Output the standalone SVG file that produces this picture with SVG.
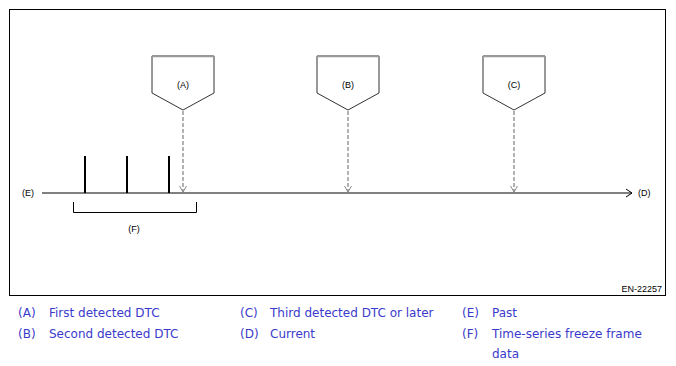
<svg xmlns="http://www.w3.org/2000/svg" width="676" height="366" viewBox="0 0 676 366">
<defs>
<marker id="chev" markerWidth="10" markerHeight="10" refX="8" refY="5" orient="auto" markerUnits="userSpaceOnUse">
<path d="M2,1 L8,5 L2,9" fill="none" stroke="#000" stroke-width="1"/>
</marker>
<marker id="chevg" markerWidth="10" markerHeight="10" refX="8" refY="5" orient="auto" markerUnits="userSpaceOnUse">
<path d="M2,1.5 L8,5 L2,8.5" fill="none" stroke="#888" stroke-width="1"/>
</marker>
<style>
.lbl{font-family:"Liberation Sans",Arial,sans-serif;font-size:9px;fill:#000}
.leg{font-family:"DejaVu Sans",Verdana,sans-serif;font-size:12px;fill:#3a3acc}
.box{fill:#fff;stroke:#333;stroke-width:1}
.top{stroke:#999;stroke-width:1.5}
.dash{stroke:#999;stroke-width:1.5;stroke-dasharray:4,2;fill:none}
.tick{stroke:#000;stroke-width:2}
</style>
</defs>
<rect x="9.5" y="9.5" width="656" height="286" fill="#fff" stroke="#000" stroke-width="1"/>
<g id="connectors">
<line x1="42" y1="193" x2="632" y2="193" stroke="#000" stroke-width="1" marker-end="url(#chev)"/>
<line class="dash" x1="183" y1="111" x2="183" y2="192" marker-end="url(#chevg)"/>
<line class="dash" x1="348" y1="111" x2="348" y2="192" marker-end="url(#chevg)"/>
<line class="dash" x1="514" y1="111" x2="514" y2="192" marker-end="url(#chevg)"/>
</g>
<g id="ticks">
<line class="tick" x1="85" y1="156" x2="85" y2="193"/>
<line class="tick" x1="127" y1="156" x2="127" y2="193"/>
<line class="tick" x1="169" y1="156" x2="169" y2="193"/>
</g>
<g id="nodeA">
<path class="box" d="M152,56 L152,93 L183,110 L214,93 L214,56 Z"/>
<line class="top" x1="152" y1="56.5" x2="214" y2="56.5"/>
<text class="lbl" x="183" y="88" text-anchor="middle">(A)</text>
</g>
<g id="nodeB">
<path class="box" d="M317,56 L317,93 L348,110 L379,93 L379,56 Z"/>
<line class="top" x1="317" y1="56.5" x2="379" y2="56.5"/>
<text class="lbl" x="348" y="88" text-anchor="middle">(B)</text>
</g>
<g id="nodeC">
<path class="box" d="M483,56 L483,93 L514,110 L545,93 L545,56 Z"/>
<line class="top" x1="483" y1="56.5" x2="545" y2="56.5"/>
<text class="lbl" x="514" y="88" text-anchor="middle">(C)</text>
</g>
<g id="bracketF">
<path d="M73.5,202 L73.5,212.5 L196.5,212.5 L196.5,202" fill="none" stroke="#000" stroke-width="1"/>
<text class="lbl" x="134" y="232" text-anchor="middle">(F)</text>
</g>
<text class="lbl" x="22" y="196">(E)</text>
<text class="lbl" x="638" y="196">(D)</text>
<text class="lbl" x="662" y="292" text-anchor="end">EN-22257</text>
<g id="legend">
<text class="leg" x="18" y="317">(A)</text>
<text class="leg" x="49" y="317">First detected DTC</text>
<text class="leg" x="18" y="338">(B)</text>
<text class="leg" x="49" y="338">Second detected DTC</text>
<text class="leg" x="240" y="317">(C)</text>
<text class="leg" x="270" y="317">Third detected DTC or later</text>
<text class="leg" x="240" y="338">(D)</text>
<text class="leg" x="270" y="338">Current</text>
<text class="leg" x="462" y="317">(E)</text>
<text class="leg" x="492" y="317">Past</text>
<text class="leg" x="462" y="338">(F)</text>
<text class="leg" x="492" y="338">Time-series freeze frame</text>
<text class="leg" x="492" y="358">data</text>
</g>
</svg>
